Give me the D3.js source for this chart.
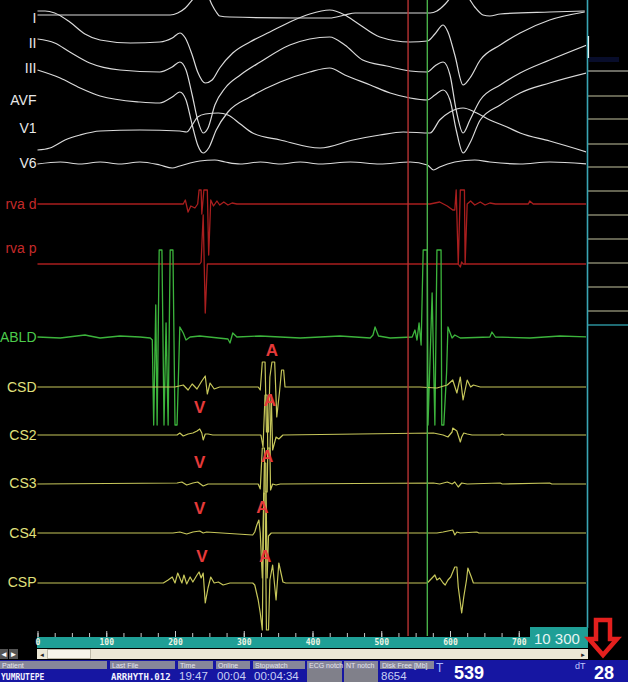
<!DOCTYPE html>
<html><head><meta charset="utf-8">
<script src="https://cdn.jsdelivr.net/npm/d3@7"></script>
<style>
html,body{margin:0;padding:0;background:#000;}
svg{display:block;}
</style></head><body>
<svg id="c" width="628" height="682"></svg>
<script>
// ---------- DATA (time in ms, amplitude in display units) ----------
const channels = ["I","II","III","AVF","V1","V6","rva d","rva p","ABLD","CSD","CS2","CS3","CS4","CSP"];
const groups   = ["ecg","ecg","ecg","ecg","ecg","ecg","rva","rva","abl","cs","cs","cs","cs","cs"];

const ecgI = [[0,1],[91,1],[193,1],[204,3],[215,8],[225,16],[233,23],[241,25],[248,20],[254,11],[260,4],[265,0],[280,-1],[382,-2],[425,-2],[447,1],[462,3],[571,3],[581,5],[593,12],[603,20],[615,25],[626,19],[636,9],[648,1],[658,0],[673,2],[745,4],[796,5]];
const ecgII = [[0,32],[11,32],[25,30],[47,21],[69,9],[91,3],[135,0],[178,1],[196,5],[207,10],[215,5],[225,-12],[233,-29],[244,-40],[254,-37],[265,-25],[284,-10],[309,1],[338,11],[367,21],[396,29],[425,33],[447,28],[465,20],[498,6],[542,1],[567,2],[578,9],[590,18],[597,11],[607,-12],[619,-42],[629,-35],[644,-17],[673,-2],[702,10],[745,23],[796,31]];
const ecgIII = [[0,33],[25,29],[47,20],[76,9],[120,2],[178,0],[196,5],[207,10],[216,2],[225,-23],[233,-48],[241,-61],[248,-56],[258,-33],[273,-16],[295,-3],[324,10],[367,27],[396,33],[425,35],[447,27],[473,12],[508,6],[542,1],[567,0],[578,6],[590,10],[600,-3],[609,-38],[619,-61],[629,-48],[644,-28],[673,-13],[702,-1],[745,12],[799,27]];
const ecgAVF = [[0,33],[33,25],[62,15],[91,7],[149,1],[178,0],[196,6],[207,11],[216,3],[225,-22],[233,-42],[241,-50],[249,-45],[260,-27],[277,-9],[309,6],[353,21],[396,31],[425,35],[447,28],[484,18],[513,10],[542,5],[567,3],[578,8],[590,13],[600,3],[609,-27],[619,-50],[629,-40],[644,-17],[673,-2],[702,10],[745,20],[799,30]];
const ecgV1 = [[0,-19],[18,-17],[40,-9],[62,-4],[91,0],[149,1],[207,0],[217,-1],[225,6],[233,14],[244,17],[263,18],[277,16],[295,7],[313,-2],[353,-9],[411,-17],[459,-9],[498,-4],[532,-1],[571,-2],[585,11],[600,19],[619,23],[639,18],[658,11],[683,4],[702,-2],[745,-10],[799,-21]];
const ecgV6 = [[0,-1],[33,1],[62,-1],[91,1],[120,-1],[149,1],[178,-2],[196,-5],[207,-3],[222,0],[236,2],[258,3],[273,1],[295,-1],[324,1],[353,-1],[382,1],[411,-1],[455,1],[498,-1],[542,1],[567,-2],[576,-7],[585,-4],[607,1],[636,3],[658,1],[702,-1],[745,1],[799,-1]];
const rvaD = [[0,0],[212,0],[215,4],[219,-8],[223,-2],[229,-4],[233,0],[235,14],[238,14],[239,-10],[242,14],[247,14],[249,-51],[252,4],[256,-2],[261,3],[265,-1],[271,2],[277,-1],[283,1],[290,0],[571,0],[585,2],[596,-2],[604,-6],[607,-6],[609,14],[612,-60],[615,14],[621,14],[622,-60],[625,0],[630,3],[636,-1],[644,2],[651,-1],[658,1],[666,0],[714,0],[716,3],[721,0],[799,0]];
const rvaP = [[0,0],[236,0],[238,2],[241,49],[244,-49],[247,0],[612,0],[615,-3],[617,2],[619,0],[799,0]];
const abld = [[0,0],[33,-1],[69,2],[76,1],[91,-1],[120,1],[149,0],[164,-1],[167,-3],[169,-88],[172,32],[174,-88],[177,87],[181,87],[184,-88],[187,14],[190,-88],[193,87],[197,87],[200,-88],[203,-88],[207,10],[212,4],[216,-3],[222,0],[236,1],[277,-2],[280,-6],[284,4],[290,0],[324,1],[382,-1],[440,1],[484,-1],[488,2],[491,10],[496,1],[513,-1],[545,0],[549,7],[552,-3],[555,14],[558,-8],[561,87],[567,87],[568,-88],[574,44],[578,-88],[581,87],[587,87],[588,-88],[591,-88],[595,-36],[597,10],[603,-1],[607,2],[615,-1],[658,0],[661,5],[666,0],[716,-1],[760,1],[799,0]];
const csd = [[0,0],[120,0],[200,0],[212,2],[219,-3],[225,3],[232,-2],[239,6],[244,11],[247,-7],[251,4],[257,-2],[265,0],[321,0],[324,-3],[327,25],[331,25],[333,-45],[336,-45],[338,10],[341,25],[345,25],[348,-30],[352,-5],[355,17],[358,17],[360,0],[367,0],[556,0],[581,-1],[596,2],[604,7],[610,-6],[615,10],[619,-13],[625,7],[630,0],[634,2],[644,0],[799,0]];
const cs2 = [[0,0],[203,0],[207,2],[212,-1],[219,1],[226,2],[232,4],[236,6],[239,2],[241,-5],[244,1],[248,1],[255,0],[325,0],[328,-12],[331,40],[334,40],[335,-22],[338,-22],[340,40],[342,-15],[347,-2],[351,-4],[357,0],[576,2],[590,0],[597,-2],[603,3],[604,7],[610,4],[615,-7],[617,-2],[620,2],[625,1],[632,0],[673,0],[676,1],[679,0],[799,0]];
const cs3 = [[0,0],[203,1],[210,2],[217,-1],[226,1],[233,2],[241,-2],[248,0],[321,0],[324,-5],[327,36],[330,36],[331,-8],[334,-8],[335,36],[338,36],[339,-6],[342,0],[347,-1],[353,0],[576,1],[585,0],[596,2],[603,0],[607,2],[612,-3],[617,1],[625,0],[673,1],[676,0],[745,1],[748,0],[799,0]];
const cs4 = [[0,0],[197,0],[207,1],[217,-1],[226,1],[236,2],[241,0],[246,1],[313,-2],[316,1],[319,8],[322,13],[324,0],[327,-45],[330,70],[332,70],[334,-45],[336,-3],[340,0],[581,0],[590,1],[597,2],[604,3],[607,-2],[610,1],[615,0],[639,1],[642,0],[799,0]];
const csp = [[0,0],[183,0],[190,3],[196,6],[200,0],[204,10],[210,0],[213,8],[217,-1],[222,6],[226,1],[232,8],[235,11],[238,5],[241,10],[244,-20],[248,-5],[252,6],[257,0],[263,1],[270,-2],[280,0],[313,0],[316,-2],[321,-17],[324,-30],[327,-47],[329,90],[331,90],[333,-47],[336,-47],[338,3],[342,18],[347,-17],[351,20],[357,1],[361,0],[556,0],[567,0],[578,8],[581,3],[585,5],[590,0],[593,-2],[597,3],[601,6],[604,11],[607,16],[610,16],[612,-4],[617,-30],[620,-14],[624,3],[626,15],[631,6],[634,0],[641,0],[799,0]];
const series = [ecgI,ecgII,ecgIII,ecgAVF,ecgV1,ecgV6,rvaD,rvaP,abld,csd,cs2,cs3,cs4,csp];

// annotations: [text, time ms, channel, amplitude above baseline]
const annotations = [["A",341,"CSD",37],["V",236,"CS2",28],["A",338,"CS2",35],["V",236,"CS3",22],["A",334,"CS3",28],["V",236,"CS4",25],["A",327,"CS4",26],["V",239,"CSP",27],["A",331,"CSP",27]];

const cursorT = 539, cursorDT = 28;
const majorTicks = [0,100,200,300,400,500,600,700];
const minorTicks = d3.range(0,701,25);
const gainLabel = "10 300";
const statusLabels = ["Patient","Last File","Time","Online","Stopwatch","ECG notch","NT notch","Disk Free [Mb]"];
const statusValues = ["YUMRUTEPE","ARRHYTH.012","19:47","00:04","00:04:34","","","8654"];

// ---------- LAYOUT ----------
const baseY  = [16,43,72,103,131,163,204,264,337,387,435,484,533,583];
const labelY = [18,43,68,100,128,163,204,248,337,387,435,483,533,582];
const traceColor = {ecg:"#dadada", rva:"#a81e1e", abl:"#3cb43c", cs:"#c6c65a"};
const labelColor = {ecg:"#e8e8e8", rva:"#c42a2a", abl:"#4ccc4c", cs:"#e0e07c"};
const traceWidth = {ecg:1.2, rva:1.3, abl:1.3, cs:1.2};

const svg = d3.select("#c");
svg.append("rect").attr("width",628).attr("height",682).attr("fill","#000");
const x = d3.scaleLinear().domain([0,800]).range([37.5,587.5]);
const yScales = {};
channels.forEach((c,i)=>{ yScales[c] = d3.scaleLinear().domain([-100,100]).range([baseY[i]+100, baseY[i]-100]); });

svg.append("defs").append("clipPath").attr("id","plot").append("rect").attr("x",37).attr("y",0).attr("width",549).attr("height",636);

// right panel lines
const panelLines = [71,96,119,144,167,191,215,239,263,287,311];
svg.selectAll("line.pl").data(panelLines).enter().append("line")
  .attr("x1",588).attr("x2",628).attr("y1",d=>d).attr("y2",d=>d)
  .attr("stroke",(d,i)=>i===0?"#d4d4c4":"#c4c4a0").attr("stroke-width",1.2);
svg.append("line").attr("x1",588).attr("x2",628).attr("y1",325).attr("y2",325).attr("stroke","#2a8f9a").attr("stroke-width",1.5);
svg.append("rect").attr("x",589).attr("y",57).attr("width",30).attr("height",5).attr("fill","#1a2a90").attr("opacity",0.3);

// traces
const gT = svg.append("g").attr("clip-path","url(#plot)");
channels.forEach((c,i)=>{
  const g = groups[i];
  const line = d3.line().x(d=>x(d[0])).y(d=>yScales[c](d[1]))
    .curve(g==="ecg" ? d3.curveMonotoneX : d3.curveLinear);
  gT.append("path").datum(series[i]).attr("d",line).attr("fill","none")
    .attr("stroke",traceColor[g]).attr("stroke-width",traceWidth[g]).attr("stroke-linejoin","round");
});

// cursors
svg.append("line").attr("x1",x(cursorT)).attr("x2",x(cursorT)).attr("y1",0).attr("y2",636).attr("stroke","#b83232").attr("stroke-width",1.4);
svg.append("line").attr("x1",x(cursorT+cursorDT)).attr("x2",x(cursorT+cursorDT)).attr("y1",0).attr("y2",636).attr("stroke","#48b048").attr("stroke-width",1.4);
// right border
svg.append("line").attr("x1",587.5).attr("x2",587.5).attr("y1",0).attr("y2",628).attr("stroke","#3aa6b4").attr("stroke-width",1.6);
svg.append("line").attr("x1",588.5).attr("x2",588.5).attr("y1",36).attr("y2",58).attr("stroke","#dff0f0").attr("stroke-width",1.2);

// channel labels
svg.selectAll("text.lab").data(channels).enter().append("text")
  .attr("x",36.5).attr("y",(d,i)=>labelY[i]).attr("dy","0.36em").attr("text-anchor","end")
  .attr("font-family","Liberation Sans, Arial, sans-serif").attr("font-size",14)
  .attr("fill",(d,i)=>labelColor[groups[i]]).text(d=>d);

// annotations
svg.selectAll("text.ann").data(annotations).enter().append("text")
  .attr("x",d=>x(d[1])).attr("y",d=>yScales[d[2]](d[3])).attr("dy","0.36em").attr("text-anchor","middle")
  .attr("font-family","Liberation Sans, Arial, sans-serif").attr("font-weight","bold").attr("font-size",17)
  .attr("fill","#e63a3a").text(d=>d[0]);

// time axis band
svg.append("rect").attr("x",37).attr("y",637).attr("width",493).attr("height",11).attr("fill","#1f9f96");
svg.append("rect").attr("x",530).attr("y",627).attr("width",58).attr("height",21).attr("fill","#1f9f96");
svg.append("text").attr("x",534).attr("y",644).attr("font-family","Liberation Sans, Arial, sans-serif").attr("font-size",15).attr("fill","#e4f4f2").text(gainLabel);

const axMinor = svg.append("g").attr("transform","translate(0,637)")
  .call(d3.axisTop(x).tickValues(minorTicks).tickSize(4).tickFormat(""));
const axMajor = svg.append("g").attr("transform","translate(0,637)")
  .call(d3.axisTop(x).tickValues(majorTicks).tickSize(6).tickFormat(""));
const axLab = svg.append("g").attr("transform","translate(0,637)")
  .call(d3.axisBottom(x).tickValues(majorTicks).tickSize(0).tickPadding(2).tickFormat(d=>String(d)));
[axMinor,axMajor,axLab].forEach(a=>{ a.select(".domain").remove(); a.selectAll("line").attr("stroke","#c8c8c8"); });
axLab.selectAll("text").attr("font-family","DejaVu Sans Mono, monospace").attr("font-weight","bold")
  .attr("font-size",8).attr("fill","#eef4e4");

// scroll row
svg.append("rect").attr("x",0).attr("y",649).attr("width",8).attr("height",10).attr("fill","#555");
svg.append("rect").attr("x",9).attr("y",649).attr("width",9).attr("height",10).attr("fill","#555");
svg.append("text").attr("x",4).attr("y",657).attr("text-anchor","middle").attr("font-size",8).attr("fill","#fff").text("◄");
svg.append("text").attr("x",13.5).attr("y",657).attr("text-anchor","middle").attr("font-size",8).attr("fill","#fff").text("►");
svg.append("rect").attr("x",37).attr("y",649).attr("width",551).attr("height",10).attr("fill","#ebe7d6");
svg.append("rect").attr("x",47.5).attr("y",649.5).attr("width",43).attr("height",9).attr("fill","#f7f5ec").attr("stroke","#bdb9a8");
svg.append("text").attr("x",42).attr("y",657).attr("text-anchor","middle").attr("font-size",6).attr("fill","#222").text("◄");
svg.append("text").attr("x",583).attr("y",657).attr("text-anchor","middle").attr("font-size",6).attr("fill","#222").text("►");

// status bar
svg.append("rect").attr("x",0).attr("y",660).attr("width",628).attr("height",22).attr("fill","#1616a2");
const cells = [[0,107],[110,175],[178,213],[216,250],[253,305],[307,342],[344,378],[380,434]];
cells.forEach((c,i)=>{
  svg.append("rect").attr("x",c[0]).attr("y",661).attr("width",c[1]-c[0]).attr("height",8).attr("fill","#86869a");
  if(i===5||i===6) svg.append("rect").attr("x",c[0]).attr("y",669).attr("width",c[1]-c[0]).attr("height",13).attr("fill","#80808a");
  svg.append("text").attr("x",c[0]+2).attr("y",667.5).attr("font-family","Liberation Sans, Arial, sans-serif")
    .attr("font-size",7).attr("fill","#e6e6ee").text(statusLabels[i]);
  const v = statusValues[i];
  if(v){
    const mono = (i<2);
    svg.append("text").attr("x", i===0 ? 1 : c[0]+1).attr("y",679.5)
      .attr("font-family", mono ? "DejaVu Sans Mono, monospace" : "Liberation Sans, Arial, sans-serif")
      .attr("font-weight", mono ? "bold" : "normal")
      .attr("font-size", mono ? (i===0?8:9) : 11.5)
      .attr("fill", mono ? "#f2f2ff" : "#c8d0f4").text(v);
  }
});
svg.append("text").attr("x",436).attr("y",672).attr("font-family","Liberation Sans, Arial, sans-serif").attr("font-size",12).attr("fill","#a8b8ff").text("T");
svg.append("text").attr("x",454).attr("y",679).attr("font-family","Liberation Sans, Arial, sans-serif").attr("font-weight","bold").attr("font-size",18).attr("fill","#ffffff").text(String(cursorT));
svg.append("text").attr("x",575).attr("y",669).attr("font-family","Liberation Sans, Arial, sans-serif").attr("font-size",9).attr("fill","#c0c8ff").text("dT");
svg.append("text").attr("x",594).attr("y",679).attr("font-family","Liberation Sans, Arial, sans-serif").attr("font-weight","bold").attr("font-size",18).attr("fill","#ffffff").text(String(cursorDT));

// red arrow
svg.append("path").attr("d","M596,620 H610 V639 H617 L603,655 L589,639 H596 Z")
  .attr("fill","#000").attr("stroke","#e4201e").attr("stroke-width",4.5).attr("stroke-linejoin","miter");
</script></body></html>
